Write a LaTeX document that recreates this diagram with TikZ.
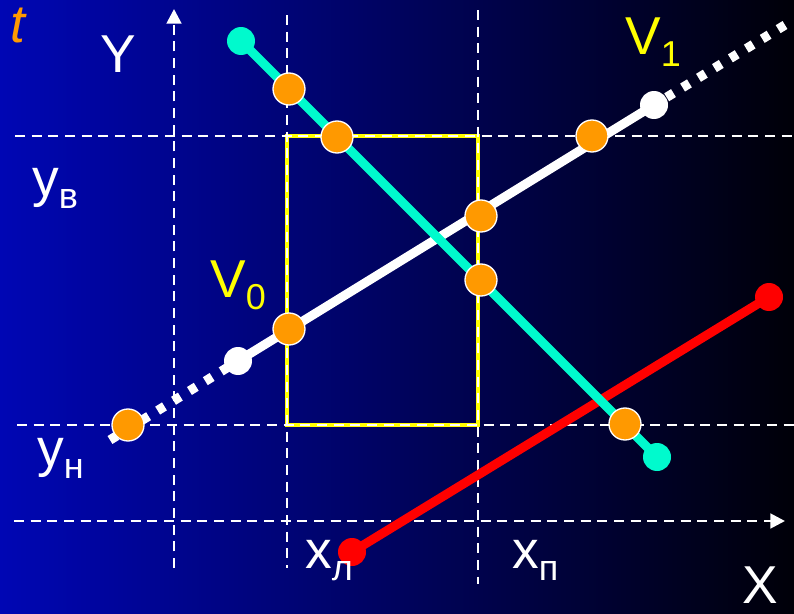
\documentclass[tikz,border=0pt]{standalone}
\usepackage{fontspec}
\setmainfont{Liberation Sans}
\usepackage{xcolor}
\usetikzlibrary{arrows.meta}
\definecolor{bgBlue}{RGB}{0,6,180}
\definecolor{bgDark}{RGB}{0,0,8}
\definecolor{clipYellow}{RGB}{255,255,0}
\definecolor{hitOrange}{RGB}{255,153,0}
\definecolor{segCyan}{RGB}{0,250,205}
\definecolor{segRed}{RGB}{255,0,0}
\newcommand{\BigText}[1]{{\fontsize{40}{44}\selectfont #1}}
\newcommand{\SubLbl}[2]{\BigText{#1\raisebox{-9pt}{\fontsize{27}{28}\selectfont #2}}}

\begin{document}
\begin{tikzpicture}[x=0.75pt,y=-0.75pt,
  guide/.style={white,line width=2.1pt,dash pattern=on 7.5pt off 5pt},
  axisarrow/.style={guide,-{Triangle[width=11pt,length=11pt]}},
  seg/.style={line width=6.8pt},
  ext/.style={white,line width=7pt,dash pattern=on 6pt off 8pt},
  odot/.style={circle,fill=hitOrange,draw=white,line width=1pt,minimum size=24pt,inner sep=0pt},
  edot/.style={circle,minimum size=21pt,inner sep=0pt},
  lbl/.style={anchor=base west,inner sep=0pt,white}]
\useasboundingbox (0,0) rectangle (794,614);
\shade[left color=bgBlue,right color=bgDark] (0,0) rectangle (794,614);

% clipping window
\draw[clipYellow,line width=2.4pt] (287,136) rectangle (478,425);

% guides and axes
\draw[guide] (15,136) -- (794,136);
\draw[guide] (17,425) -- (794,425);
\draw[guide] (287,15) -- (287,568);
\draw[guide] (478,10) -- (478,584);
\draw[axisarrow] (14,521) -- (785,521);
\draw[axisarrow] (174,568) -- (174,9);

% segment ends
\coordinate (w0) at (238,361);
\coordinate (w1) at (654,105);
\coordinate (wlo) at (110,440);
\coordinate (whi) at (785,25);
\coordinate (r0) at (352,552);
\coordinate (r1) at (769,297);
\coordinate (c0) at (241,41);
\coordinate (c1) at (657,457);

% segments
\draw[ext] (wlo) -- (w0);
\draw[ext] (whi) -- (w1);
\draw[seg,white] (w0) -- (w1);
\draw[seg,segRed] (r0) -- (r1);
\draw[seg,segCyan] (c0) -- (c1);

% end points
\node[edot,fill=white] (v0) at (w0) {};
\node[edot,fill=white] (v1) at (w1) {};
\node[edot,fill=segRed] (rs) at (r0) {};
\node[edot,fill=segRed] (re) at (r1) {};
\node[edot,fill=segCyan] (cs) at (c0) {};
\node[edot,fill=segCyan] (ce) at (c1) {};

% intersections
\node[odot] (w2) at (128,425) {};
\node[odot] (w3) at (289,329) {};
\node[odot] (w4) at (481,216) {};
\node[odot] (w5) at (592,136) {};
\node[odot] (c2) at (289,89) {};
\node[odot] (c3) at (337,137) {};
\node[odot] (c4) at (481,280) {};
\node[odot] (c5) at (625,424) {};

% labels
\node[lbl,text=hitOrange] (tlbl) at (10,42) {\BigText{\itshape t}};
\node[lbl] (ylbl) at (100,72) {\BigText{Y}};
\node[lbl] (xlbl) at (742,603) {\BigText{X}};
\node[lbl,text=clipYellow] (v1lbl) at (625,55) {\SubLbl{V}{1}};
\node[lbl,text=clipYellow] (v0lbl) at (210,297) {\SubLbl{V}{0}};
\node[lbl] (yblbl) at (32,196) {\SubLbl{y}{в}};
\node[lbl] (yhlbl) at (37,466) {\SubLbl{y}{н}};
\node[lbl] (xllbl) at (305,568) {\SubLbl{x}{л}};
\node[lbl] (xplbl) at (512,568) {\SubLbl{x}{п}};
\end{tikzpicture}
\end{document}
